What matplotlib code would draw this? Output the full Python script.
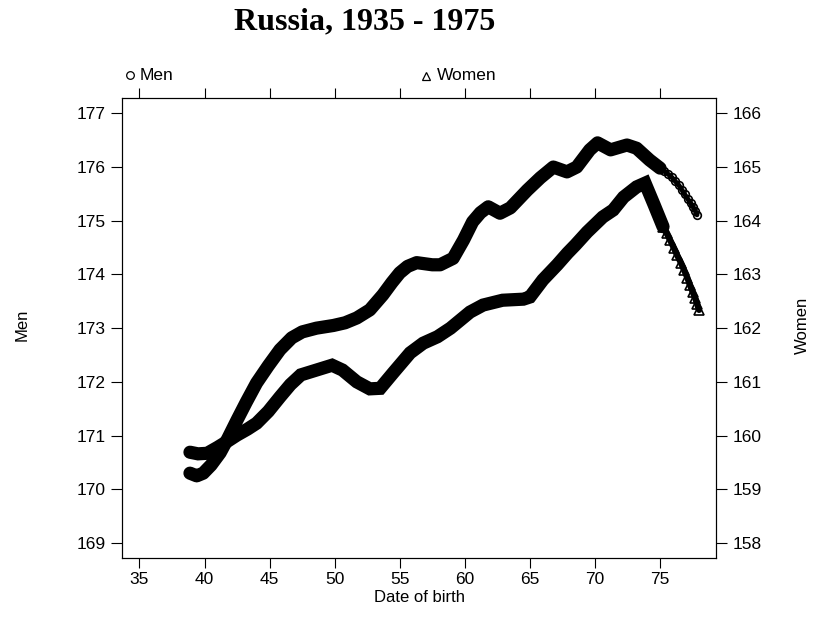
import numpy as np
import matplotlib.pyplot as plt
from matplotlib.lines import Line2D

# Mean height by date of birth, Russia
# Men: dense part of the series
men_x = [38.88, 39.4, 39.9, 40.5, 41.2, 41.8, 42.5, 43.2, 44.0, 44.9, 45.8, 46.7,
         47.5, 48.6, 49.9, 50.8, 51.7, 52.7, 53.7, 54.4, 55.0, 55.6, 56.3, 57.5,
         58.1, 59.1, 59.9, 60.6, 61.2, 61.8, 62.7, 63.5, 64.8, 65.8, 66.8, 67.85,
         68.6, 69.6, 70.2, 71.2, 72.46, 73.2, 74.2, 75.0]
men_y = [170.30, 170.25, 170.30, 170.45, 170.68, 170.95, 171.29, 171.62, 171.98,
         172.30, 172.60, 172.82, 172.93, 173.00, 173.05, 173.10, 173.19, 173.34,
         173.62, 173.85, 174.03, 174.15, 174.22, 174.18, 174.18, 174.30, 174.64,
         174.98, 175.15, 175.26, 175.14, 175.24, 175.57, 175.80, 176.00, 175.91,
         176.00, 176.32, 176.45, 176.32, 176.41, 176.35, 176.13, 175.98]
# Men: sparse tail where single markers show
men_tail_x = [75.0, 75.3, 75.61, 75.9, 76.15, 76.45, 76.69, 76.9, 77.15, 77.35,
              77.53, 77.7, 77.84]
men_tail_y = [175.98, 175.93, 175.87, 175.81, 175.74, 175.66, 175.57, 175.49,
              175.40, 175.33, 175.26, 175.19, 175.11]

# Women
women_x = [38.88, 39.5, 40.2, 41.0, 41.8, 42.5, 43.3, 44.0, 44.9, 45.8, 46.6, 47.4,
           48.6, 49.8, 50.6, 51.7, 52.7, 53.5, 54.5, 55.8, 56.8, 57.9, 58.9, 60.4,
           61.4, 62.9, 64.5, 65.0, 66.0, 67.1, 67.9, 68.5, 69.4, 70.6, 71.4, 72.2,
           73.2, 73.85, 74.54, 75.23]
women_y = [159.69, 159.66, 159.67, 159.78, 159.90, 160.01, 160.12, 160.23, 160.45,
           160.72, 160.95, 161.13, 161.22, 161.31, 161.22, 161.00, 160.87, 160.88,
           161.17, 161.54, 161.72, 161.84, 162.00, 162.30, 162.43, 162.52, 162.54,
           162.58, 162.90, 163.18, 163.40, 163.55, 163.79, 164.07, 164.20, 164.44,
           164.63, 164.70, 164.30, 163.89]
women_tail_x = [75.23, 75.5, 75.77, 76.05, 76.31, 76.6, 76.85, 77.1, 77.3, 77.5,
                77.7, 77.85, 78.0]
women_tail_y = [163.89, 163.77, 163.64, 163.50, 163.36, 163.22, 163.08, 162.94,
                162.80, 162.68, 162.56, 162.45, 162.34]

x_ticks = [35, 40, 45, 50, 55, 60, 65, 70, 75]
men_ticks = [169, 170, 171, 172, 173, 174, 175, 176, 177]
women_ticks = [158, 159, 160, 161, 162, 163, 164, 165, 166]

plt.rcParams['font.family'] = ['Liberation Sans', 'DejaVu Sans']

fig = plt.figure(figsize=(8.14, 6.19), dpi=100)
ax = fig.add_axes([0.1499, 0.0985, 0.7297, 0.7427])
ax2 = ax.twinx()

# Men on the left axis
ax.plot(men_x, men_y, color='black', lw=9.5, solid_capstyle='round',
        solid_joinstyle='round')
ax.plot(men_tail_x, men_tail_y, color='black', lw=3.5, solid_capstyle='round',
        marker='o', ms=5.5, mfc='none', mec='black', mew=1.2)

# Women on the right axis
ax2.plot(women_x, women_y, color='black', lw=9.5, solid_capstyle='round',
         solid_joinstyle='miter')
ax2.plot(women_tail_x, women_tail_y, color='black', lw=4.5, solid_capstyle='round',
         marker='^', ms=6.5, mfc='none', mec='black', mew=1.2)

ax.set_xlim(33.66, 79.3)
ax.set_ylim(168.72, 177.28)
ax2.set_ylim(157.72, 166.28)

ax.set_xticks(x_ticks)
ax.set_yticks(men_ticks)
ax2.set_yticks(women_ticks)

ax.tick_params(axis='x', direction='out', length=7, width=0.8, top=True,
               labeltop=False, labelsize=12.5, pad=3)
ax.tick_params(axis='y', direction='out', length=8, width=0.8, left=True,
               right=False, labelsize=12.5, pad=4)
ax2.tick_params(axis='y', direction='out', length=8, width=0.8, right=True,
                left=False, labelsize=12.5, pad=4)
for a in (ax, ax2):
    for s in a.spines.values():
        s.set_linewidth(0.8)

# Axis labels placed as in the lattice layout
fig.text(0.027, 0.475, 'Men', rotation=90, ha='center', va='center', fontsize=12)
fig.text(0.986, 0.475, 'Women', rotation=90, ha='center', va='center', fontsize=12)
fig.text(0.515, 0.034, 'Date of birth', ha='center', va='center', fontsize=12)

# Title
fig.text(0.448, 0.964, 'Russia, 1935 - 1975', ha='center', va='center',
         fontsize=23, fontweight='bold', family='Liberation Serif')

# Key above the panel
fig.add_artist(Line2D([130 / 814], [1 - 75 / 619], marker='o', ms=5.5, mfc='none',
                      mec='black', mew=0.9, transform=fig.transFigure))
fig.text(140 / 814, 1 - 75 / 619, 'Men', ha='left', va='center', fontsize=12.5)
fig.add_artist(Line2D([426 / 814], [1 - 76 / 619], marker='^', ms=5.5, mfc='none',
                      mec='black', mew=0.9, transform=fig.transFigure))
fig.text(437 / 814, 1 - 75 / 619, 'Women', ha='left', va='center', fontsize=12.5)

fig.savefig('out.png', dpi=100)
